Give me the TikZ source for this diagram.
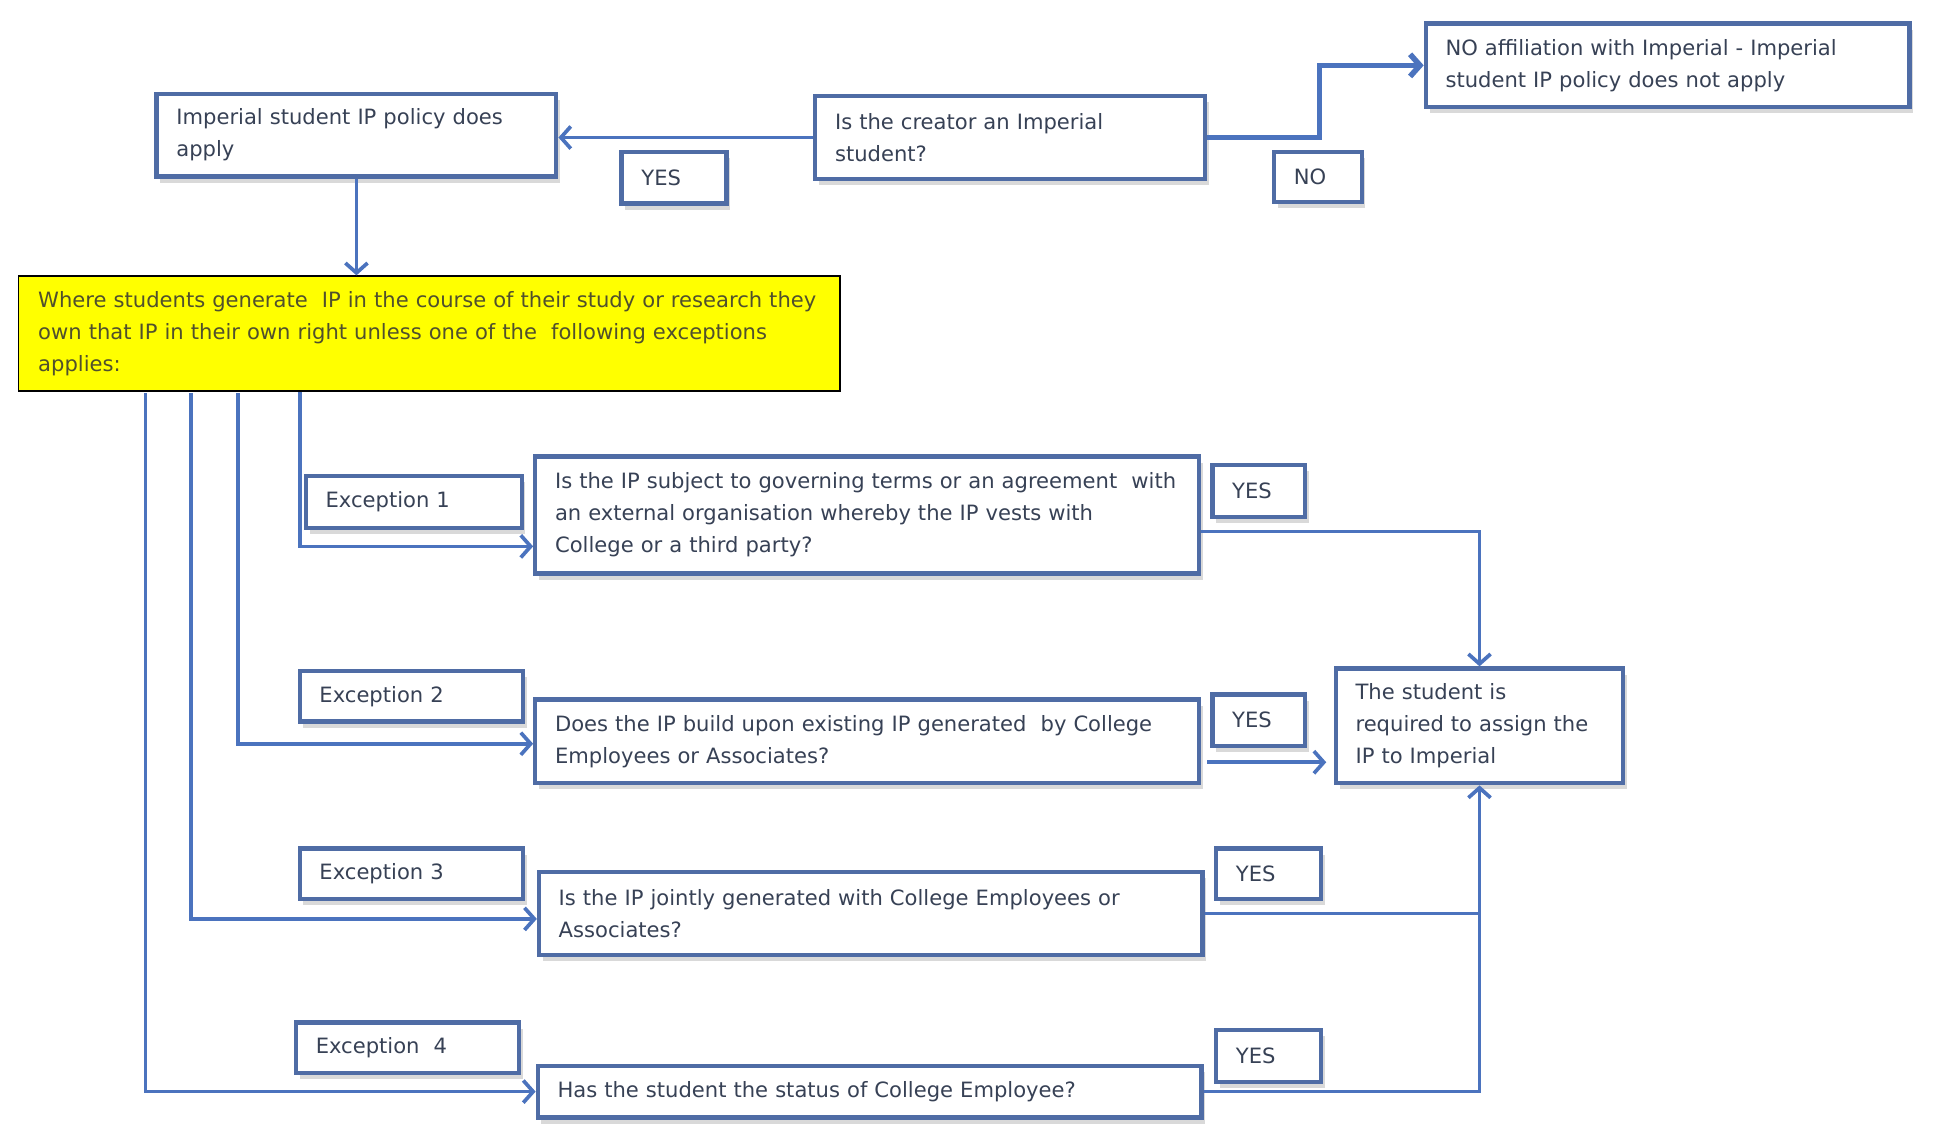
\documentclass[tikz,border=0pt]{standalone}
\usepackage{fontspec}
\setmainfont{DejaVu Sans}
\usetikzlibrary{arrows.meta,shadows}
\definecolor{bordercol}{RGB}{79,108,165}
\definecolor{linecol}{RGB}{75,115,190}
\definecolor{textcol}{RGB}{55,65,85}
\definecolor{yeltext}{RGB}{80,80,45}
\begin{document}
\begin{tikzpicture}[x=1pt,y=-1pt,
  box/.style={draw=bordercol, line width=3.5pt, fill=white, inner xsep=16pt, inner ysep=0pt,
    align=left, text=textcol, font=\fontsize{17.1}{26}\selectfont,
    drop shadow={shadow xshift=3pt, shadow yshift=-5pt, opacity=0.3, fill=gray}},
  yelbox/.style={draw=black, line width=1.5pt, fill={rgb,255:red,255;green,255;blue,0}, inner xsep=16pt, inner ysep=0pt,
    align=left, text=yeltext, font=\fontsize{17.1}{26}\selectfont},
  plainline/.style={draw=linecol, line width=3pt},
  conn/.style={plainline, -{Straight Barb[length=8pt,width=18pt]}}]
\useasboundingbox (0,0) rectangle (1568,927.5);

% top row
\node[box, text width=292pt, minimum height=67pt] (pol) at (289,109.5)
  {\mbox{Imperial student IP policy does}\\\mbox{apply}};
\node[box, text width=284pt, minimum height=67pt] (cre) at (819,111.5)
  {\mbox{Is the creator an Imperial}\\\mbox{student?}};
\node[box, text width=360pt, minimum height=68pt] (noaff) at (1352,53)
  {\mbox{NO affiliation with Imperial - Imperial}\\\mbox{student IP policy does not apply}};
\node[box, text width=53pt, minimum height=42pt] (yes0) at (546.5,144) {YES};
\node[box, text width=39pt, minimum height=41pt] (nolab) at (1068.5,143.5) {NO};

% yellow statement
\node[yelbox, text width=634pt, minimum height=93pt] (yel) at (348,270.5)
  {\mbox{Where students generate\ \ IP in the course of their study or research they}\\
   \mbox{own that IP in their own right unless one of the\ \ following exceptions}\\
   \mbox{applies:}};

% exceptions
\node[box, text width=143pt, minimum height=42pt] (ex1) at (335.5,407) {Exception 1};
\node[box, text width=149pt, minimum height=41pt] (ex2) at (333.5,564.5) {Exception 2};
\node[box, text width=149pt, minimum height=41pt] (ex3) at (333.5,708.5) {Exception 3};
\node[box, text width=149pt, minimum height=41pt] (ex4) at (330.5,849.5) {Exception\ \ 4};

% questions
\node[box, text width=506pt, minimum height=95pt] (q1) at (703,417.5)
  {\mbox{Is the IP subject to governing terms or an agreement\ \ with}\\
   \mbox{an external organisation whereby the IP vests with}\\
   \mbox{College or a third party?}};
\node[box, text width=506pt, minimum height=68pt] (q2) at (703,601)
  {\mbox{Does the IP build upon existing IP generated\ \ by College}\\
   \mbox{Employees or Associates?}};
\node[box, text width=506pt, minimum height=67pt] (q3) at (706,740.5)
  {\mbox{Is the IP jointly generated with College Employees or}\\
   \mbox{Associates?}};
\node[box, text width=506pt, minimum height=42pt] (q4) at (705,885)
  {\mbox{Has the student the status of College Employee?}};

% yes labels
\node[box, text width=43pt, minimum height=42pt] (yes1) at (1020.5,398) {YES};
\node[box, text width=43pt, minimum height=42pt] (yes2) at (1020.5,584) {YES};
\node[box, text width=53pt, minimum height=41pt] (yes3) at (1028.5,708.5) {YES};
\node[box, text width=53pt, minimum height=42pt] (yes4) at (1028.5,856) {YES};

% result
\node[box, text width=201pt, minimum height=93pt] (res) at (1199.5,588.5)
  {\mbox{The student is}\\\mbox{required to assign the}\\\mbox{IP to Imperial}};

% top connectors
\draw[conn] (cre.west) -- (cre.west -| pol.east);
\draw[conn, line width=4.5pt] (cre.east) -- ++(91,0) |- (noaff.west);
\draw[conn] (pol.south) -- (pol.south |- yel.north);

% branches from yellow box
\coordinate (b1) at (243,318);
\coordinate (b2) at (193,319);
\coordinate (b3) at (155,319);
\coordinate (b4) at (118,319);
\draw[conn] (b1) |- ([yshift=-25.5pt]q1.west);
\draw[conn] (b2) |- ([yshift=-2pt]q2.west);
\draw[conn] (b3) |- ([yshift=-4.5pt]q3.west);
\draw[conn] (b4) |- (q4.west);

% to result
\draw[conn] ([yshift=-13.5pt]q1.east) -| (res.north);
\coordinate (q2e) at ([yshift=-17pt]q2.east);
\draw[conn, shorten <=5pt, shorten >=6pt] (q2e) -- (q2e -| res.west);
\draw[plainline] (q3.east) -- (q3.east -| res.south);
\draw[conn] (q4.east) -| (res.south);
\end{tikzpicture}
\end{document}
